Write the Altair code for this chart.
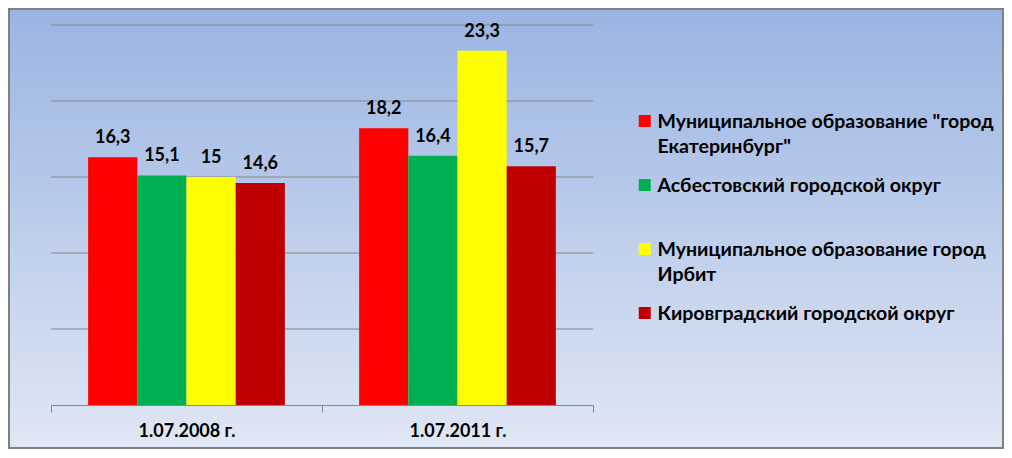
import altair as alt
import pandas as pd

categories = ["1.07.2008 г.", "1.07.2011 г."]
series = [
    'Муниципальное образование "город\nЕкатеринбург"',
    "Асбестовский городской округ",
    "Муниципальное образование город\nИрбит",
    "Кировградский городской округ",
]
colors = ["#FF0000", "#00B050", "#FFFF00", "#C00000"]
values_2008 = [16.3, 15.1, 15.0, 14.6]
values_2011 = [18.2, 16.4, 23.3, 15.7]
grid_ticks = [5, 10, 15, 20, 25]

rows = []
for cat, vals in zip(categories, [values_2008, values_2011]):
    for s, v in zip(series, vals):
        rows.append({"cat": cat, "series": s, "value": v,
                     "label": f"{v:g}".replace(".", ",")})
df = pd.DataFrame(rows)

FONT = "Lato"
W, H = 542, 380
PAD = {"left": 43, "top": 17, "right": 411, "bottom": 44}
CW = W + PAD["left"] + PAD["right"]
CH = H + PAD["top"] + PAD["bottom"]

yscale = alt.Scale(domain=[0, 25], nice=False)

bg = alt.Chart(pd.DataFrame({"a": [0]})).mark_rect(
    fill=alt.Gradient(
        gradient="linear", x1=0, y1=0, x2=0, y2=1,
        stops=[alt.GradientStop(color="#9ab4e2", offset=0),
               alt.GradientStop(color="#e0e7f4", offset=1)],
    ),
    stroke="#808080", strokeWidth=2,
).encode(x=alt.value(-PAD["left"] + 1), x2=alt.value(CW - PAD["left"] - 1),
         y=alt.value(-PAD["top"] + 1), y2=alt.value(CH - PAD["top"] - 1))

grid = alt.Chart(pd.DataFrame({"v": grid_ticks})).mark_rule(
    color="#868686", strokeWidth=1
).encode(
    y=alt.Y("v:Q", scale=yscale, axis=None),
    x=alt.value(0), x2=alt.value("width"),
)

xenc = alt.X(
    "cat:N", sort=categories,
    scale=alt.Scale(paddingInner=0, paddingOuter=0),
    axis=alt.Axis(
        title=None, labelAngle=0, labelFont=FONT, labelFontSize=18,
        labelFontWeight="bold", labelColor="black", domainColor="#868686",
        tickColor="#868686", tickSize=7, tickBand="extent", labelPadding=10,
        zindex=1,
    ),
)
xoff = alt.XOffset("series:N", sort=series,
                   scale=alt.Scale(paddingInner=0, paddingOuter=0.755))
yenc = alt.Y("value:Q", scale=yscale, axis=None)

bars = alt.Chart(df).mark_bar().encode(
    x=xenc, xOffset=xoff, y=yenc,
    color=alt.Color(
        "series:N", sort=series,
        scale=alt.Scale(domain=series, range=colors),
        legend=alt.Legend(
            title=None, orient="none", legendX=584, legendY=71,
            labelFont=FONT, labelFontSize=19.5, labelFontWeight="bold",
            labelColor="black", labelLimit=600,
            labelExpr="split(datum.label, '\\n')",
            labelBaseline="alphabetic", labelOffset=3,
            symbolType="M-1,-2.17H1V-0.17H-1Z", symbolSize=144,
            symbolStrokeWidth=0, clipHeight=64, rowPadding=0, padding=0,
        ),
    ),
)

text = alt.Chart(df).mark_text(
    dy=-14, baseline="alphabetic", font=FONT, fontSize=18,
    fontWeight="bold", color="black",
).encode(x=xenc, xOffset=xoff, y=yenc, text="label:N")

chart = alt.layer(bg, grid, bars, text).properties(
    width=W, height=H,
    autosize=alt.AutoSizeParams(type="none"),
    padding=PAD,
).configure_view(stroke=None).configure(
    background="#e0e7f4",
    style={"guide-label": {"lineHeight": 25}},
)

chart.save("out.html", embed_options={"renderer": "svg", "actions": False})
